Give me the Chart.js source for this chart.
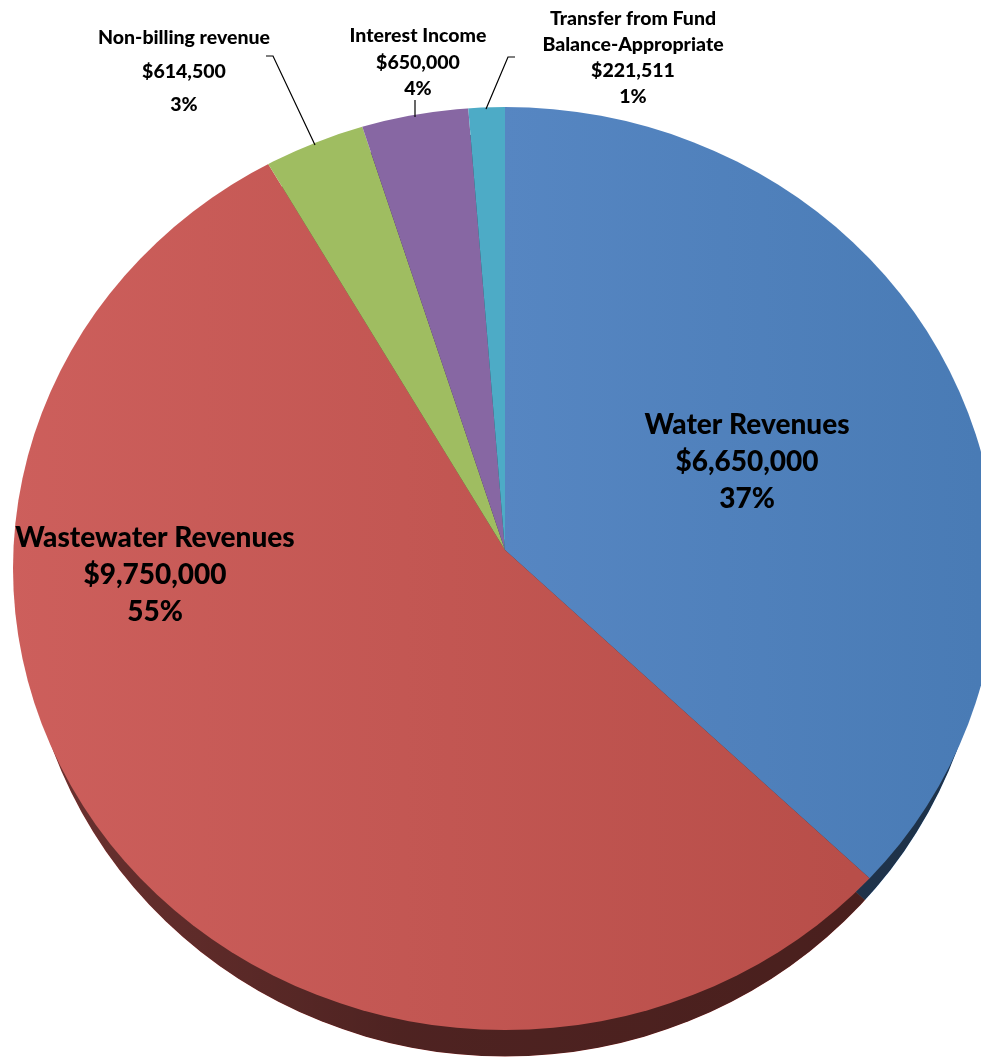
<!DOCTYPE html>
<html>
<head>
<meta charset="utf-8">
<style>html,body{margin:0;padding:0;background:#fff;overflow:hidden}canvas{display:block}</style>
<script src="https://cdn.jsdelivr.net/npm/chart.js@4"></script>
</head>
<body>
<canvas id="c" width="981" height="1058"></canvas>
<script>
const categories = ["Water Revenues", "Wastewater Revenues", "Non-billing revenue", "Interest Income", "Transfer from Fund|Balance-Appropriate"];
const revenues = [6650000, 9750000, 614500, 650000, 221511];
const sliceColors = ["#4f81bd", "#c0504d", "#9fbd61", "#8767a3", "#4dabc6"];

const apex = {x: 505, y: 550, sx: 1.12, sy: 1.05};
const face = {x: 505, y: 568.5, rx: 492, ry: 461.5};
const rim = {x: 505, y: 595, rx: 480, ry: 461.5, depth: 26};
const labelStyle = [
  {x: 747, y: 425, gap: 37, size: 28},
  {x: 155, y: 538, gap: 37, size: 28},
  {x: 184, y: 38, gap: 33.5, size: 19.5},
  {x: 418, y: 36, gap: 26.5, size: 19.5},
  {x: 633, y: 19, gap: 26, size: 19.5}
];
const leaders = [
  [[266, 56], [273, 56], [315, 145]],
  [[415, 100], [415, 117]],
  [[515, 57], [508, 57], [486, 109]]
];

const canvas = document.getElementById('c');
const g = canvas.getContext('2d');
const blueGrad = g.createLinearGradient(490, 0, 915, 0);
blueGrad.addColorStop(0, '#5686c2');
blueGrad.addColorStop(1, '#497bb5');
const redGrad = g.createLinearGradient(40, 0, 800, 0);
redGrad.addColorStop(0, '#cd5f5c');
redGrad.addColorStop(1, '#b84e49');
const fills = [blueGrad, redGrad, sliceColors[2], sliceColors[3], sliceColors[4]];
const rimShade = g.createLinearGradient(40, 0, 400, 0);
rimShade.addColorStop(0, 'rgba(0,0,0,0.48)');
rimShade.addColorStop(1, 'rgba(0,0,0,0.6)');

function placePie(ctx, chart, dy) {
  const a = chart.chartArea;
  ctx.translate(apex.x, apex.y + dy);
  ctx.scale(apex.sx, apex.sy);
  ctx.translate(-(a.left + a.right) / 2, -(a.top + a.bottom) / 2);
}
function ellipsePath(ctx, e) {
  ctx.beginPath();
  ctx.ellipse(e.x, e.y, e.rx, e.ry, 0, 0, Math.PI * 2);
}

const tiltedPie = {
  id: 'tiltedPie',
  beforeDatasetsDraw(chart) {
    const ctx = chart.ctx;
    // side wall: same arcs, moved down and darkened
    ctx.save();
    ellipsePath(ctx, rim);
    ctx.clip();
    ctx.save();
    placePie(ctx, chart, rim.depth);
    chart.getDatasetMeta(0).data.forEach(el => el.draw(ctx));
    ctx.restore();
    ctx.fillStyle = rimShade;
    ellipsePath(ctx, rim);
    ctx.fill();
    ctx.restore();
    // top face: chart's own pass, under this transform
    ctx.save();
    ellipsePath(ctx, face);
    ctx.clip();
    placePie(ctx, chart, 0);
  },
  afterDatasetsDraw(chart) {
    chart.ctx.restore();
  },
  afterDraw(chart) {
    const ctx = chart.ctx;
    const total = revenues.reduce((s, v) => s + v, 0);
    ctx.save();
    ctx.strokeStyle = '#000';
    ctx.lineWidth = 1.2;
    leaders.forEach(pts => {
      ctx.beginPath();
      pts.forEach((p, i) => i ? ctx.lineTo(p[0], p[1]) : ctx.moveTo(p[0], p[1]));
      ctx.stroke();
    });
    ctx.fillStyle = '#000';
    ctx.textAlign = 'center';
    ctx.textBaseline = 'middle';
    categories.forEach((name, i) => {
      const s = labelStyle[i];
      const lines = name.split('|').concat([
        '$' + revenues[i].toLocaleString('en-US'),
        Math.round(revenues[i] / total * 100) + '%'
      ]);
      ctx.font = '900 ' + s.size + 'px Lato, "Open Sans", sans-serif';
      lines.forEach((t, k) => ctx.fillText(t, s.x, s.y + k * s.gap));
    });
    ctx.restore();
  }
};

new Chart(canvas, {
  type: 'pie',
  data: {
    labels: categories.map(c => c.replace('|', ' ')),
    datasets: [{data: revenues, backgroundColor: fills, borderWidth: 0, hoverOffset: 0}]
  },
  options: {
    responsive: false,
    animation: false,
    rotation: 0,
    layout: {padding: 0},
    events: [],
    plugins: {legend: {display: false}, tooltip: {enabled: false}}
  },
  plugins: [tiltedPie]
});
</script>
</body>
</html>
